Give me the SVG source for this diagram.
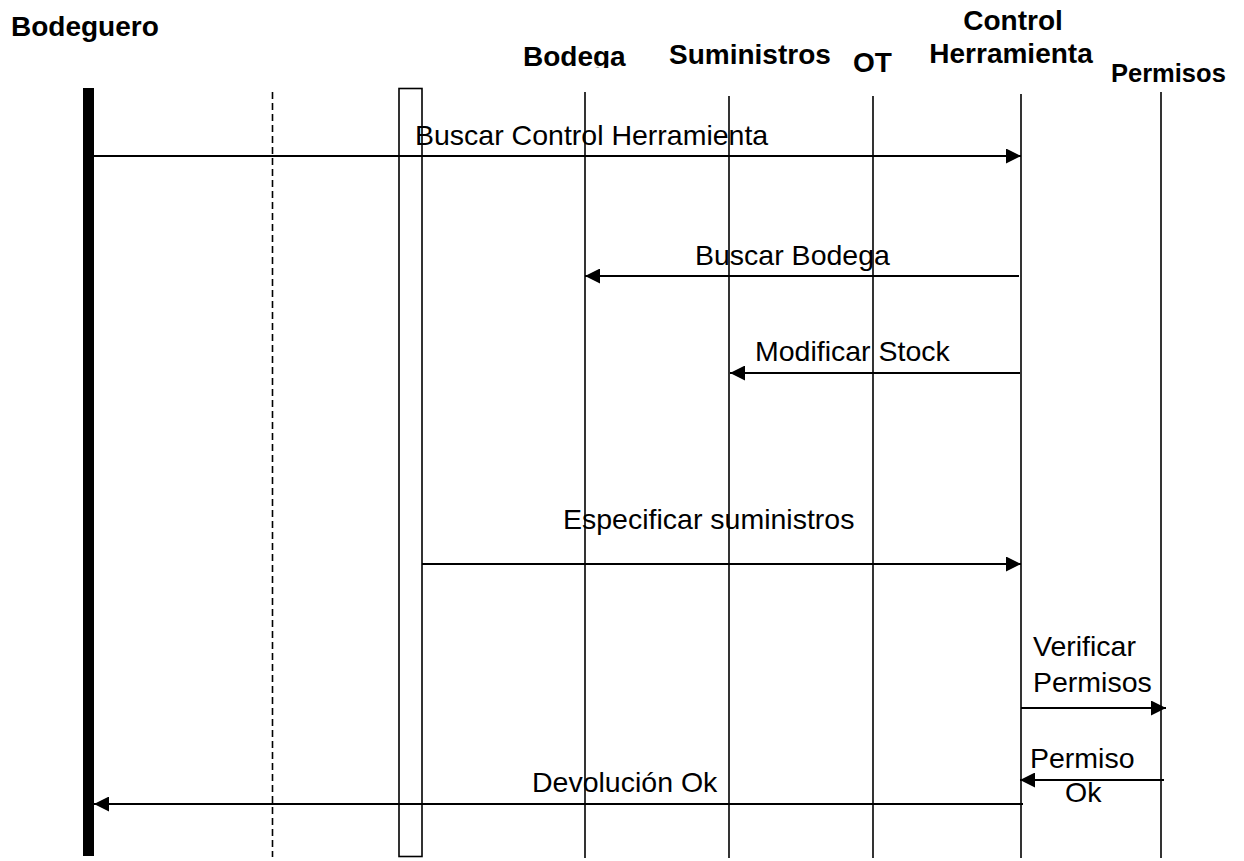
<svg xmlns="http://www.w3.org/2000/svg" width="1244" height="861" viewBox="0 0 1244 861">
<style>
.hdr{font-family:"Liberation Sans",Arial,sans-serif;font-weight:bold;font-size:28px;fill:#000}
.lbl{font-family:"Liberation Sans",Arial,sans-serif;font-size:28.5px;fill:#000}
.life{stroke:#000;stroke-width:1.6;fill:none}
.msg{stroke:#000;stroke-width:2.2;fill:none;marker-end:url(#ah)}
</style>
<defs>
<marker id="ah" markerUnits="userSpaceOnUse" markerWidth="15" markerHeight="15" viewBox="0 0 14 14" refX="14" refY="7" orient="auto">
<path d="M0,0 L14,7 L0,14 z" fill="#000"/>
</marker>
<clipPath id="clipBodega"><rect x="500" y="0" width="160" height="68"/></clipPath>
</defs>
<rect width="1244" height="861" fill="#fff"/>

<g id="bodeguero">
<text class="hdr" x="11" y="36">Bodeguero</text>
<rect x="83" y="88" width="11" height="768" fill="#000"/>
</g>
<g id="dashed-lifeline">
<line x1="272.5" y1="92" x2="272.5" y2="857" stroke="#000" stroke-width="1.6" stroke-dasharray="7,4"/>
</g>
<g id="activation">
<rect x="399" y="88.5" width="23" height="768" fill="none" stroke="#000" stroke-width="1.6"/>
</g>
<g id="bodega">
<text class="hdr" x="523" y="66" clip-path="url(#clipBodega)">Bodega</text>
<line class="life" x1="585" y1="92" x2="585" y2="858"/>
</g>
<g id="suministros">
<text class="hdr" x="669" y="64">Suministros</text>
<line class="life" x1="729" y1="96" x2="729" y2="858"/>
</g>
<g id="ot">
<text class="hdr" x="853" y="72">OT</text>
<line class="life" x1="873" y1="96" x2="873" y2="858"/>
</g>
<g id="control-herramienta">
<text class="hdr" x="1013" y="30" text-anchor="middle">Control</text>
<text class="hdr" x="1011" y="63" text-anchor="middle">Herramienta</text>
<line class="life" x1="1021" y1="94" x2="1021" y2="858"/>
</g>
<g id="permisos">
<text class="hdr" x="1111" y="82" style="font-size:25.5px">Permisos</text>
<line class="life" x1="1161" y1="92" x2="1161" y2="858"/>
</g>

<g id="connectors">
<line class="msg" x1="94" y1="156" x2="1021" y2="156"/>
<line class="msg" x1="1019" y1="276" x2="585" y2="276"/>
<line class="msg" x1="1020" y1="373" x2="730" y2="373"/>
<line class="msg" x1="422" y1="564" x2="1021" y2="564"/>
<line class="msg" x1="1021" y1="708" x2="1166" y2="708"/>
<line class="msg" x1="1164" y1="780" x2="1020" y2="780"/>
<line class="msg" x1="1023" y1="804" x2="94" y2="804"/>
</g>

<g id="labels">
<text class="lbl" x="415" y="145">Buscar Control Herramienta</text>
<text class="lbl" x="695" y="265">Buscar Bodega</text>
<text class="lbl" x="755" y="361">Modificar Stock</text>
<text class="lbl" x="563" y="529">Especificar suministros</text>
<text class="lbl" x="1033" y="656">Verificar</text>
<text class="lbl" x="1033" y="692">Permisos</text>
<text class="lbl" x="1030" y="768">Permiso</text>
<text class="lbl" x="1065" y="802">Ok</text>
<text class="lbl" x="532" y="792">Devolución Ok</text>
</g>
</svg>
